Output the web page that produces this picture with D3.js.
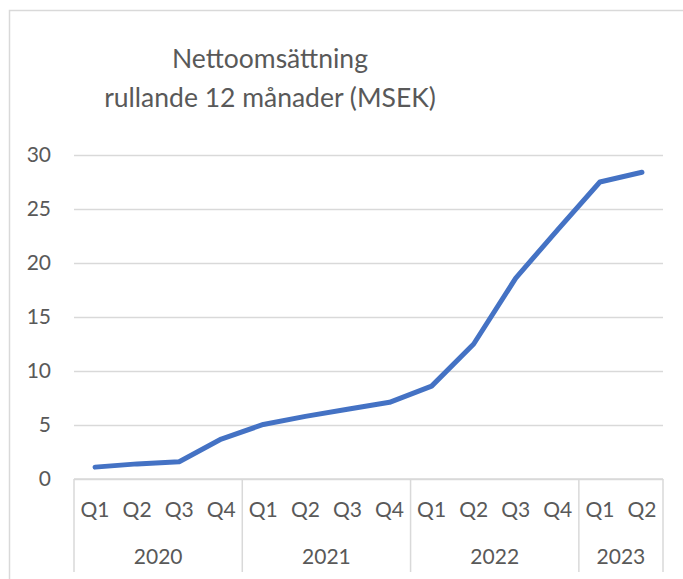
<!DOCTYPE html>
<html>
<head>
<meta charset="utf-8">
<script src="https://cdn.jsdelivr.net/npm/d3@7"></script>
<style>
  body { margin: 0; background: #fff; }
  text { font-family: Lato, "Open Sans", sans-serif; fill: #595959; }
</style>
</head>
<body>
<script>
// Data
const years = ["2020", "2021", "2022", "2023"];
const quarters = ["Q1", "Q2", "Q3", "Q4", "Q1", "Q2", "Q3", "Q4", "Q1", "Q2", "Q3", "Q4", "Q1", "Q2"];
const quarterYears = ["2020", "2020", "2020", "2020", "2021", "2021", "2021", "2021", "2022", "2022", "2022", "2022", "2023", "2023"];
const values = [1.1, 1.4, 1.6, 3.7, 5.05, 5.8, 6.45, 7.1, 8.6, 12.5, 18.6, 23.1, 27.5, 28.4];
const yTicks = [0, 5, 10, 15, 20, 25, 30];
const titleLines = ["Nettoomsättning", "rullande 12 månader (MSEK)"];

const w = 683, h = 579;
const plotLeft = 74, plotRight = 663, plotTop = 155, plotBottom = 479;
const lineColor = "#4472C4";
const gridColor = "#D9D9D9";

const svg = d3.select("body").append("svg")
    .attr("width", w)
    .attr("height", h);

// chart border (cropped on right and bottom)
svg.append("rect")
    .attr("x", 9.5).attr("y", 10.5)
    .attr("width", w + 20).attr("height", h + 20)
    .attr("fill", "none")
    .attr("stroke", gridColor)
    .attr("stroke-width", 1.5);

const keys = quarters.map((q, i) => quarterYears[i] + "-" + q);

const xScale = d3.scaleBand().domain(keys).range([plotLeft, plotRight]);
const yScale = d3.scaleLinear().domain([0, 30]).range([plotBottom, plotTop]);

// gridlines + y labels
const yAxis = d3.axisLeft(yScale)
    .tickValues(yTicks)
    .tickSize(-(plotRight - plotLeft))
    .tickPadding(23);
const gy = svg.append("g")
    .attr("transform", "translate(" + plotLeft + ",0)")
    .call(yAxis);
gy.select(".domain").remove();
gy.selectAll(".tick line").attr("stroke", gridColor).attr("stroke-width", 1.5);
gy.selectAll(".tick text")
    .style("font-size", "21px")
    .attr("fill", "#595959");

// multi-level category axis
const axisG = svg.append("g");
axisG.append("line")
    .attr("x1", plotLeft).attr("x2", plotRight)
    .attr("y1", plotBottom).attr("y2", plotBottom)
    .attr("stroke", gridColor).attr("stroke-width", 1.5);

axisG.selectAll(".qlabel")
    .data(keys)
    .enter()
    .append("text")
    .attr("class", "qlabel")
    .attr("x", d => xScale(d) + xScale.bandwidth() / 2)
    .attr("y", 517)
    .attr("text-anchor", "middle")
    .style("font-size", "21px")
    .text((d, i) => quarters[i]);

const yearSpans = years.map(y => {
    const ks = keys.filter((k, i) => quarterYears[i] === y);
    return { year: y, x0: xScale(ks[0]), x1: xScale(ks[ks.length - 1]) + xScale.bandwidth() };
});

axisG.selectAll(".sep")
    .data([yearSpans[0].x0].concat(yearSpans.map(s => s.x1)))
    .enter()
    .append("line")
    .attr("class", "sep")
    .attr("x1", d => d).attr("x2", d => d)
    .attr("y1", plotBottom).attr("y2", 572)
    .attr("stroke", gridColor).attr("stroke-width", 1.5);

axisG.selectAll(".ylabel")
    .data(yearSpans)
    .enter()
    .append("text")
    .attr("class", "ylabel")
    .attr("x", d => (d.x0 + d.x1) / 2)
    .attr("y", 564)
    .attr("text-anchor", "middle")
    .style("font-size", "21px")
    .text(d => d.year);

// line
const line = d3.line()
    .x((d, i) => xScale(keys[i]) + xScale.bandwidth() / 2)
    .y(d => yScale(d));

svg.append("path")
    .datum(values)
    .attr("d", line)
    .attr("fill", "none")
    .attr("stroke", lineColor)
    .attr("stroke-width", 5)
    .attr("stroke-linecap", "round")
    .attr("stroke-linejoin", "round");

// title
svg.selectAll(".title")
    .data(titleLines)
    .enter()
    .append("text")
    .attr("class", "title")
    .attr("x", 270)
    .attr("y", (d, i) => 68 + i * 39)
    .attr("text-anchor", "middle")
    .style("font-size", "26.5px")
    .text(d => d);
</script>
</body>
</html>
